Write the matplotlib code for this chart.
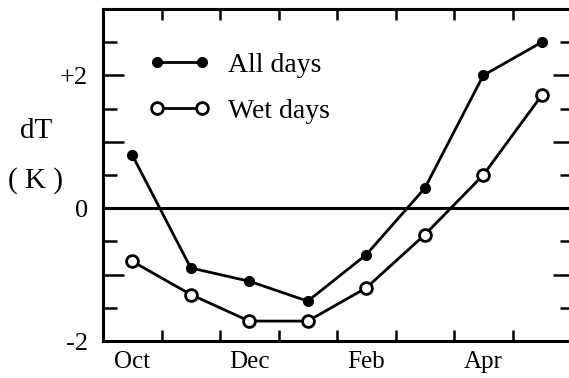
import matplotlib
matplotlib.use("Agg")
import matplotlib.pyplot as plt
from matplotlib.ticker import FixedLocator

# Monthly temperature change, Oct..May
months = ["Oct", "Nov", "Dec", "Jan", "Feb", "Mar", "Apr", "May"]
all_days = [0.8, -0.9, -1.1, -1.4, -0.7, 0.3, 2.0, 2.5]
wet_days = [-0.8, -1.3, -1.7, -1.7, -1.2, -0.4, 0.5, 1.7]
month_labels = ["Oct", "", "Dec", "", "Feb", "", "Apr", ""]
ytick_vals = [-2, 0, 2]
ytick_labels = ["-2", "0", "+2"]
ytick_minor = [-1.5, -1, -0.5, 0.5, 1, 1.5, 2.5]

plt.rcParams["font.family"] = ["Liberation Serif", "DejaVu Serif"]

W, H = 569, 378
fig = plt.figure(figsize=(W / 100, H / 100), dpi=100)
left, right, top, bottom = 103, 571, 9, 341
ax = fig.add_axes([left / W, 1 - bottom / H, (right - left) / W, (bottom - top) / H])

x = [i + 0.5 for i in range(len(months))]
ax.plot(x, all_days, color="black", lw=2.0, marker="o", ms=7,
        mfc="black", mec="black", label="All days", clip_on=False)
ax.plot(x, wet_days, color="black", lw=2.0, marker="o", ms=8.5,
        mfc="white", mec="black", mew=2.0, label="Wet days", clip_on=False)
ax.axhline(0, color="black", lw=2.2, zorder=1)

ax.set_xlim(0, 8)
ax.set_ylim(-2, 3)

# month boundaries as ticks, month names centred between them
ax.xaxis.set_major_locator(FixedLocator(list(range(1, 8))))
ax.xaxis.set_minor_locator(FixedLocator(x))
ax.set_xticklabels([])
ax.set_xticklabels(month_labels, minor=True)
ax.tick_params(axis="x", which="major", direction="in", length=8, width=1.8,
               top=True, bottom=True)
ax.tick_params(axis="x", which="minor", length=0, pad=7, labelsize=18)

ax.set_yticks(ytick_vals, ytick_labels)
ax.set_yticks(ytick_minor, minor=True)
ax.tick_params(axis="y", which="both", direction="in", left=True, right=True,
               width=1.8)
ax.tick_params(axis="y", which="major", length=0, pad=11, labelsize=19)
ax.tick_params(axis="y", which="minor", length=10)
for t, v in zip(ax.yaxis.get_minor_ticks(), ytick_minor):
    if float(v).is_integer():
        t.tick1line.set_markersize(15)
        t.tick2line.set_markersize(13)
    else:
        t.tick2line.set_markersize(8)
# the +2 position inside the frame carries a long tick too
for t, v in zip(ax.yaxis.get_major_ticks(), ytick_vals):
    if v == 2:
        t.tick1line.set_markersize(15)
        t.tick2line.set_markersize(13)
        t.tick1line.set_markeredgewidth(1.8)
        t.tick2line.set_markeredgewidth(1.8)

for s in ax.spines.values():
    s.set_linewidth(2.2)

fig.text(36 / W, 1 - 131 / H, "dT", fontsize=21, ha="center", va="center")
fig.text(36 / W, 1 - 181 / H, "( K )", fontsize=21, ha="center", va="center")

ax.legend(loc="upper left", bbox_to_anchor=(0.045, 0.945), frameon=False,
          numpoints=2, handlelength=2.2, handletextpad=0.65, labelspacing=0.75,
          fontsize=20)

fig.savefig("out.png", dpi=100)
